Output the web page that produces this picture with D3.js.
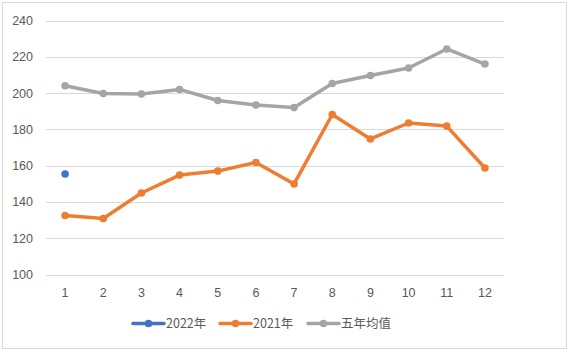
<!DOCTYPE html>
<html>
<head>
<meta charset="utf-8">
<script src="https://cdn.jsdelivr.net/npm/d3@7"></script>
<style>
  body { margin: 0; background: #fff; }
  text { font-family: "Noto Sans CJK SC", "Liberation Sans", sans-serif; fill: #595959; }
</style>
</head>
<body>
<div id="chart"></div>
<script>
// months on the category axis
const months = [1, 2, 3, 4, 5, 6, 7, 8, 9, 10, 11, 12];
// series values
const y2022 = [155.4];
const y2021 = [132.5, 130.9, 144.9, 154.8, 157, 161.7, 149.9, 188.2, 174.7, 183.5, 181.8, 158.7];
const fiveYearAvg = [204, 199.8, 199.5, 202, 195.9, 193.4, 192, 205.3, 209.7, 213.8, 224.3, 216];
const yTicks = [100, 120, 140, 160, 180, 200, 220, 240];

const series = [
    {name: "2022年", color: "#4472c4", values: y2022},
    {name: "2021年", color: "#ed7d31", values: y2021},
    {name: "五年均值", color: "#a5a5a5", values: fiveYearAvg}
];

const width = 569, height = 352;
const margin = {top: 20.5, right: 65, bottom: 77.5, left: 46};

const svg = d3.select("#chart").append("svg")
    .attr("width", width)
    .attr("height", height);

// outer frame
svg.append("rect")
    .attr("x", 2.5).attr("y", 2.5)
    .attr("width", 564).attr("height", 346)
    .attr("fill", "#fff")
    .attr("stroke", "#d9d9d9");

const x = d3.scaleBand()
    .domain(months)
    .range([margin.left, width - margin.right]);

const y = d3.scaleLinear()
    .domain([100, 240])
    .range([height - margin.bottom, margin.top]);

// gridlines
svg.append("g")
    .selectAll("line")
    .data(yTicks)
    .join("line")
    .attr("x1", margin.left)
    .attr("x2", width - margin.right)
    .attr("y1", d => Math.round(y(d)) + 0.5)
    .attr("y2", d => Math.round(y(d)) + 0.5)
    .attr("stroke", "#d9d9d9");

// y axis labels
const yAxis = d3.axisLeft(y).tickValues(yTicks).tickSize(0).tickPadding(10);
svg.append("g")
    .attr("transform", "translate(" + (margin.left - 3) + ",0)")
    .call(yAxis)
    .call(g => g.select(".domain").remove())
    .call(g => g.selectAll("text").attr("font-size", 12.5).attr("fill", "#595959")
        .style("font-family", "'Liberation Sans', sans-serif"));

// x axis labels
const xAxis = d3.axisBottom(x).tickSize(0).tickPadding(14);
svg.append("g")
    .attr("transform", "translate(0," + (height - margin.bottom) + ")")
    .call(xAxis)
    .call(g => g.select(".domain").remove())
    .call(g => g.selectAll("text").attr("font-size", 12.5).attr("fill", "#595959")
        .style("font-family", "'Liberation Sans', sans-serif"));

const cx = i => x(months[i]) + x.bandwidth() / 2;

const line = d3.line()
    .x((d, i) => cx(i))
    .y(d => y(d));

series.forEach(s => {
    if (s.values.length > 1) {
        svg.append("path")
            .datum(s.values)
            .attr("fill", "none")
            .attr("stroke", s.color)
            .attr("stroke-width", 3.5)
            .attr("stroke-linejoin", "round")
            .attr("stroke-linecap", "round")
            .attr("d", line);
    }
    svg.append("g")
        .selectAll("circle")
        .data(s.values)
        .join("circle")
        .attr("cx", (d, i) => cx(i))
        .attr("cy", d => y(d))
        .attr("r", 3.8)
        .attr("fill", s.color);
});

// legend
const legendX = [133, 220, 308];
const legend = svg.append("g")
    .selectAll("g")
    .data(series)
    .join("g")
    .attr("transform", (d, i) => "translate(" + legendX[i] + ",323.5)");

legend.append("line")
    .attr("x1", 0).attr("x2", 31)
    .attr("stroke", d => d.color)
    .attr("stroke-width", 3.5)
    .attr("stroke-linecap", "round");
legend.append("circle")
    .attr("cx", 15.5).attr("r", 3.8)
    .attr("fill", d => d.color);
legend.append("text")
    .attr("x", 33)
    .attr("dy", "0.36em")
    .attr("font-size", 12.5)
    .text(d => d.name);
</script>
</body>
</html>
